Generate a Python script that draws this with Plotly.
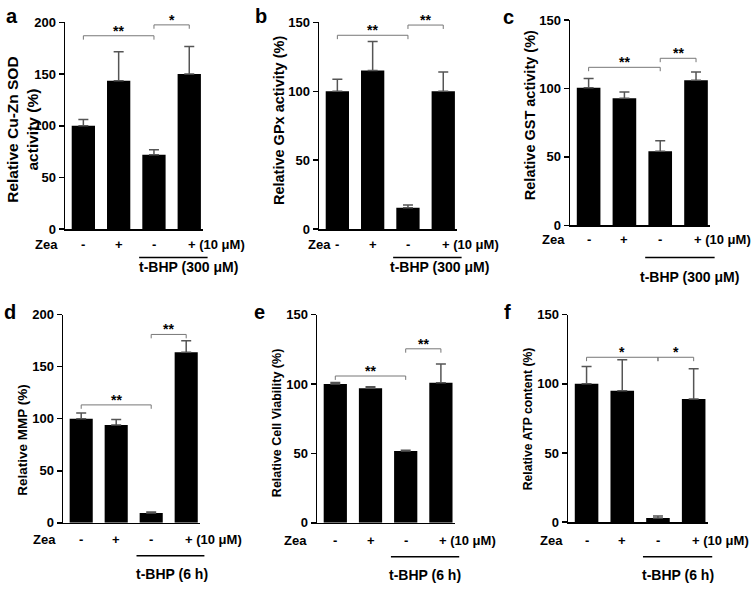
import plotly.graph_objects as go

W, H = 756, 589

# ---------------- data ----------------
categories = ["-", "+", "-", "+"]
zea_label = "Zea"
dose_label = "(10 μM)"

sod_values = [100, 143.5, 72, 150]
sod_err = [6, 28, 4.8, 26.5]
sod_brackets = [(0, 2, 187, "**"), (2, 3, 197.5, "*")]

gpx_values = [100, 115, 15.5, 100]
gpx_err = [8.8, 21, 2, 14]
gpx_brackets = [(0, 2, 140.6, "**"), (2, 3, 148, "**")]

gst_values = [100.5, 92.8, 54, 106]
gst_err = [6.8, 4.5, 7.8, 6]
gst_brackets = [(0, 2, 115.4, "**"), (2, 3, 122, "**")]

mmp_values = [100, 94, 9.4, 164]
mmp_err = [5.5, 5.3, 0.9, 11]
mmp_brackets = [(0, 2, 113.3, "**"), (2, 3, 181, "**")]

viab_values = [100, 97, 51.7, 101]
viab_err = [1.2, 1, 0.6, 13.5]
viab_brackets = [(0, 2, 105.8, "**"), (2, 3, 125.4, "**")]

atp_values = [100, 95, 3, 89]
atp_err = [12.5, 22.5, 1.5, 22]
atp_brackets = [(0, 2, 119.2, "*"), (2, 3, 119.2, "*")]

titles = ["Relative Cu-Zn SOD<br>activity (%)", "Relative GPx activity (%)",
          "Relative GST activity (%)", "Relative MMP (%)",
          "Relative Cell Viability (%)", "Relative ATP content (%)"]
letters = ["a", "b", "c", "d", "e", "f"]
treatments = ["t-BHP (300 μM)", "t-BHP (300 μM)", "t-BHP (300 μM)",
              "t-BHP (6 h)", "t-BHP (6 h)", "t-BHP (6 h)"]
y_max = [200, 150, 150, 200, 150, 150]
y_ticks = [[0, 50, 100, 150, 200], [0, 50, 100, 150], [0, 50, 100, 150],
           [0, 50, 100, 150, 200], [0, 50, 100, 150], [0, 50, 100, 150]]

values = [sod_values, gpx_values, gst_values, mmp_values, viab_values, atp_values]
errors = [sod_err, gpx_err, gst_err, mmp_err, viab_err, atp_err]
brackets = [sod_brackets, gpx_brackets, gst_brackets, mmp_brackets, viab_brackets, atp_brackets]

# ---------------- layout geometry (pixels) ----------------
XR = [-0.52, 3.4]
geom = [
    dict(left=65, sp=35.3, top=15.7, bottom=228, tsize=15.5, tx=23, ty=126,
         lab_y=244, line_y=257, text_y=267, zea_x=-1.05, text_cx=2.97, lx=4, ly=9),
    dict(left=319, sp=35.3, top=15.7, bottom=228, tsize=14.5, tx=279, ty=117,
         lab_y=244, line_y=257, text_y=267, zea_x=-0.51, text_cx=2.88, lx=253, ly=9),
    dict(left=570, sp=35.8, top=13.3, bottom=224, tsize=14.5, tx=530, ty=111,
         lab_y=239, line_y=257, text_y=277, zea_x=-0.99, text_cx=2.81, lx=501, ly=10),
    dict(left=63, sp=35.0, top=315.7, bottom=529.3, tsize=13.5, tx=23, ty=444,
         lab_y=546, line_y=563, text_y=582, zea_x=-1.04, text_cx=2.58, lx=2, ly=313),
    dict(left=317, sp=35.2, top=315.7, bottom=529.3, tsize=12.5, tx=277, ty=427,
         lab_y=547, line_y=564, text_y=583, zea_x=-1.13, text_cx=2.54, lx=252, ly=313),
    dict(left=568, sp=35.7, top=315.7, bottom=528.7, tsize=12.2, tx=528, ty=423,
         lab_y=547, line_y=564, text_y=583, zea_x=-0.97, text_cx=2.55, lx=502, ly=313),
]

FONT = "Arial, Liberation Sans, sans-serif"


def xp(g, xv):
    return (g["left"] + (xv - XR[0]) * g["sp"]) / W


def yp(pix):
    return 1 - pix / H


fig = go.Figure()
shapes = []
annotations = []

for i, g in enumerate(geom):
    n = "" if i == 0 else str(i + 1)
    xa, ya = "x" + n, "y" + n
    right = g["left"] + (XR[1] - XR[0]) * g["sp"]
    fig.add_trace(go.Bar(
        x=list(range(len(categories))), y=values[i], width=0.66,
        marker=dict(color="black", line=dict(width=0)),
        error_y=dict(type="data", array=errors[i], arrayminus=[0] * 4, symmetric=False,
                     color="#555555", thickness=1.5, width=5),
        xaxis=xa, yaxis=ya, showlegend=False, hoverinfo="skip"))
    fig.layout["xaxis" + n] = dict(
        domain=[g["left"] / W, right / W], range=XR, anchor=ya,
        showticklabels=False, ticks="", showgrid=False, zeroline=False,
        showline=True, linecolor="black", linewidth=1.5, fixedrange=True)
    fig.layout["yaxis" + n] = dict(
        domain=[yp(g["bottom"]), yp(g["top"])], range=[0, y_max[i]], anchor=xa,
        tickvals=y_ticks[i], ticks="outside", ticklen=5, tickwidth=1.5, tickcolor="black",
        tickfont=dict(family=FONT, size=13, color="black", weight="bold"),
        showgrid=False, zeroline=False, showline=True, linecolor="black",
        linewidth=1.5, fixedrange=True)

    # significance brackets
    upx = (g["bottom"] - g["top"]) / y_max[i]
    tick = 4 / upx
    for (a, b, h, star) in brackets[i]:
        shapes.append(dict(type="path", xref=xa, yref=ya,
                           path=f"M {a},{h - tick} L {a},{h} L {b},{h} L {b},{h - tick}",
                           line=dict(color="#777777", width=1)))
        annotations.append(dict(x=(a + b) / 2, y=h, xref=xa, yref=ya, text=star,
                                showarrow=False, yanchor="bottom", yshift=-5,
                                font=dict(family=FONT, size=14, color="black", weight="bold")))

    # category row
    lab_font = dict(family=FONT, size=13, color="black", weight="bold")
    annotations.append(dict(x=xp(g, g["zea_x"]), y=yp(g["lab_y"]), xref="paper", yref="paper",
                            text=zea_label, showarrow=False, xanchor="center", yanchor="middle",
                            font=lab_font))
    for k, c in enumerate(categories):
        if k == len(categories) - 1:
            annotations.append(dict(x=xp(g, k - 0.1), y=yp(g["lab_y"]), xref="paper", yref="paper",
                                    text=c + " " + dose_label, showarrow=False, xanchor="left",
                                    yanchor="middle", font=lab_font))
        else:
            annotations.append(dict(x=xp(g, k), y=yp(g["lab_y"]), xref="paper", yref="paper",
                                    text=c, showarrow=False, xanchor="center", yanchor="middle",
                                    font=lab_font))
    # treatment line + text
    shapes.append(dict(type="line", xref="paper", yref="paper",
                       x0=xp(g, 1.58), x1=xp(g, 3.52), y0=yp(g["line_y"]), y1=yp(g["line_y"]),
                       line=dict(color="black", width=1.5)))
    annotations.append(dict(x=xp(g, g["text_cx"]), y=yp(g["text_y"]), xref="paper", yref="paper",
                            text=treatments[i], showarrow=False, xanchor="center", yanchor="middle",
                            font=dict(family=FONT, size=14, color="black", weight="bold")))
    # y-axis title
    annotations.append(dict(x=g["tx"] / W, y=yp(g["ty"]), xref="paper", yref="paper",
                            text=titles[i], textangle=-90, showarrow=False,
                            xanchor="center", yanchor="middle",
                            font=dict(family=FONT, size=g["tsize"], color="black", weight="bold")))
    # panel letter
    annotations.append(dict(x=g["lx"] / W, y=yp(g["ly"]), xref="paper", yref="paper",
                            text=letters[i], showarrow=False, xanchor="left", yanchor="middle",
                            font=dict(family=FONT, size=20, color="black", weight="bold")))

fig.update_layout(width=W, height=H, margin=dict(l=0, r=0, t=0, b=0),
                  plot_bgcolor="white", paper_bgcolor="white",
                  shapes=shapes, annotations=annotations, bargap=0.3)

fig.write_html("out.html", config={"displayModeBar": False, "staticPlot": True},
               post_script="document.body.style.margin='0';document.body.style.overflow='hidden';")
